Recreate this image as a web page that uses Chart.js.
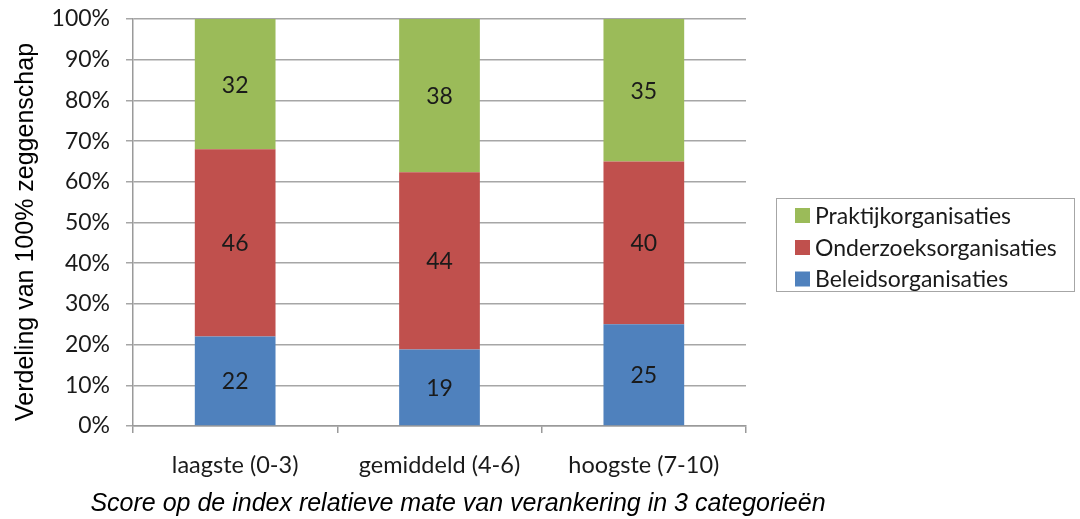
<!DOCTYPE html>
<html>
<head>
<meta charset="utf-8">
<script src="https://cdn.jsdelivr.net/npm/chart.js@4/dist/chart.umd.min.js"></script>
<style>
  html, body { margin: 0; padding: 0; background: #ffffff; }
  #wrap { width: 1080px; height: 519px; }
</style>
</head>
<body>
<div id="wrap"><canvas id="c" width="1080" height="519"></canvas></div>
<script>
// ---- data ----
const categories = ['laagste (0-3)', 'gemiddeld (4-6)', 'hoogste (7-10)'];
const beleidsorganisaties = [22, 19, 25];
const onderzoeksorganisaties = [46, 44, 40];
const praktijkorganisaties = [32, 38, 35];
const seriesNames = ['Beleidsorganisaties', 'Onderzoeksorganisaties', 'Praktijkorganisaties'];
const yTicks = [0, 10, 20, 30, 40, 50, 60, 70, 80, 90, 100];
const yTitle = 'Verdeling van 100% zeggenschap';
const xTitle = 'Score op de index relatieve mate van verankering in 3 categorieën';

const seriesValues = [beleidsorganisaties, onderzoeksorganisaties, praktijkorganisaties];
const colors = ['#4F81BD', '#C0504D', '#9BBB59'];

// 100% stacked: share of each category total
const totals = categories.map((_, i) => seriesValues.reduce((s, arr) => s + arr[i], 0));
const datasets = seriesValues.map((vals, k) => ({
  label: seriesNames[k],
  data: vals.map((v, i) => v / totals[i] * 100),
  raw: vals,
  backgroundColor: colors[k],
  borderWidth: 0,
  barPercentage: 0.395,
  categoryPercentage: 1.0
}));

const labelFont = '"Lato", "Open Sans", sans-serif';

const decor = {
  id: 'decor',
  afterDatasetsDraw(chart) {
    const ctx = chart.ctx;
    ctx.save();
    ctx.font = '23px ' + labelFont;
    ctx.fillStyle = '#1a1a1a';
    ctx.textAlign = 'center';
    ctx.textBaseline = 'middle';
    chart.data.datasets.forEach((ds, di) => {
      const meta = chart.getDatasetMeta(di);
      meta.data.forEach((el, i) => {
        const p = el.getProps(['x', 'y', 'base'], true);
        ctx.fillText(String(ds.raw[i]), p.x, (p.y + p.base) / 2 + 1);
      });
    });
    ctx.restore();
  },
  afterDraw(chart) {
    const ctx = chart.ctx;
    ctx.save();
    ctx.font = '25px "Liberation Sans", Arial, sans-serif';
    ctx.fillStyle = '#000';
    ctx.textAlign = 'center';
    ctx.textBaseline = 'middle';
    ctx.translate(26, 232);
    ctx.rotate(-Math.PI / 2);
    ctx.fillText(yTitle, 0, 0);
    ctx.restore();

    ctx.save();
    ctx.font = 'italic 25px "Liberation Sans", Arial, sans-serif';
    ctx.fillStyle = '#000';
    ctx.textAlign = 'center';
    ctx.textBaseline = 'middle';
    ctx.fillText(xTitle, 458, 504);
    ctx.restore();

    // legend box
    ctx.save();
    ctx.strokeStyle = '#a6a6a6';
    ctx.lineWidth = 1;
    ctx.strokeRect(776.5, 198.5, 298, 93);
    const order = [2, 1, 0];
    const rowY = [215.5, 247.5, 279];
    ctx.font = '23px ' + labelFont;
    ctx.textAlign = 'left';
    ctx.textBaseline = 'middle';
    order.forEach((k, r) => {
      ctx.fillStyle = chart.data.datasets[k].backgroundColor;
      ctx.fillRect(795, rowY[r] - 7.5, 15, 15);
      ctx.fillStyle = '#1a1a1a';
      ctx.fillText(chart.data.datasets[k].label, 815, rowY[r] + 1);
    });
    ctx.restore();
  }
};

new Chart(document.getElementById('c'), {
  type: 'bar',
  data: { labels: categories, datasets: datasets },
  options: {
    responsive: false,
    animation: false,
    devicePixelRatio: 1,
    layout: { padding: { top: 19, right: 334, left: 0, bottom: 0 } },
    plugins: {
      legend: { display: false },
      tooltip: { enabled: false }
    },
    scales: {
      x: {
        stacked: true,
        grid: { display: true, drawOnChartArea: false, drawTicks: true, tickLength: 7, color: '#9a9a9a', lineWidth: 1.5, offset: true },
        border: { color: '#9a9a9a', width: 1.5 },
        ticks: { font: { family: labelFont, size: 23.5 }, color: '#1a1a1a', padding: 18, maxRotation: 0 },
        afterFit(scale) { scale.height = 93; scale.paddingLeft = 0; scale.paddingRight = 0; }
      },
      y: {
        stacked: true,
        min: 0, max: 100,
        afterBuildTicks(scale) { scale.ticks = yTicks.map(v => ({ value: v })); },
        grid: { color: '#a6a6a6', lineWidth: 1.5, tickLength: 7 },
        border: { color: '#9a9a9a', width: 1.5 },
        ticks: { font: { family: labelFont, size: 23 }, color: '#1a1a1a', padding: 16, callback: v => v + '%' },
        afterFit(scale) { scale.width = 133; scale.paddingTop = 0; scale.paddingBottom = 0; }
      }
    }
  },
  plugins: [decor]
});
</script>
</body>
</html>
